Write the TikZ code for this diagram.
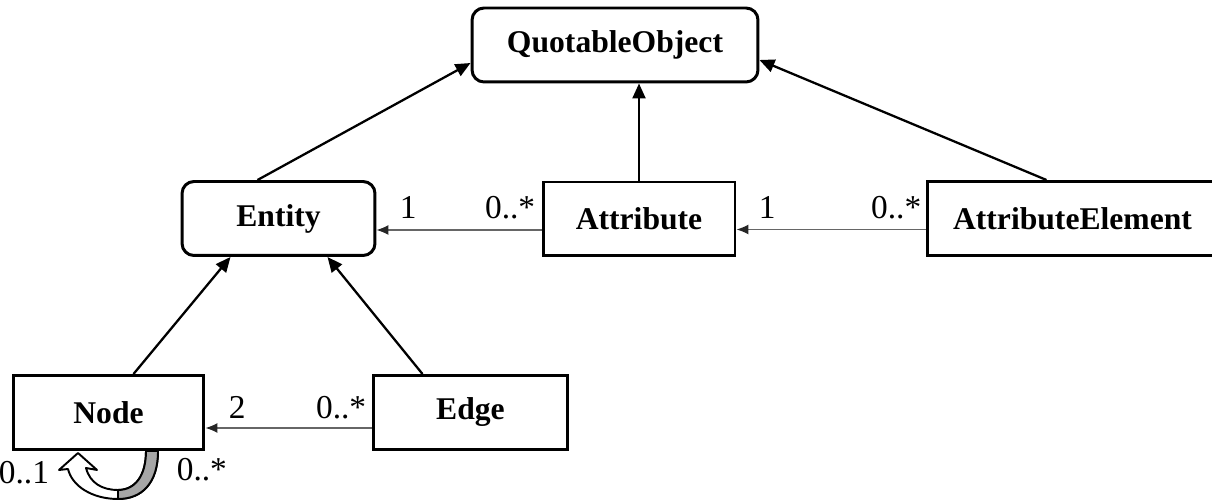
\documentclass[tikz,border=0pt]{standalone}
\usepackage{fontspec}
\setmainfont{Liberation Serif}
\usetikzlibrary{arrows.meta, positioning, calc}

\tikzset{%
   % class boxes: plain and rounded
   cls/.style={
      draw,
      line width=1.7pt,
      minimum height=1.48cm,
      inner sep=0pt,
      font=\fontsize{18}{20}\selectfont\bfseries
   },
   abstractcls/.style={
      cls,
      rounded corners=0.24cm
   },
   % generalisation and association lines
   isa/.style={
      line width=1.3pt,
      -{Triangle[length=0.3cm, width=0.26cm]}
   },
   assoc/.style={
      line width=0.7pt,
      draw=black!60,
      -{Latex[length=0.24cm, width=0.2cm, color=black!85]}
   },
   mult/.style={
      inner sep=0pt,
      font=\fontsize{19}{21}\selectfont
   },
}

\begin{document}
\begin{tikzpicture}[x=0.02cm, y=-0.02cm]
  \useasboundingbox (0,0) rectangle (1212,502);

  \node[abstractcls, minimum width=5.72cm] (QuotableObject) at (615,45)      {QuotableObject};
  \node[abstractcls, minimum width=3.86cm] (Entity)         at (278.5,218.5) {Entity};
  \node[cls, minimum width=3.84cm]         (Attribute)      at (639,219)     {Attribute};
  \node[cls, minimum width=5.82cm]         (AttrElement)    at (1072.5,218.5){AttributeElement};
  \node[cls, minimum width=3.82cm]         (Node)           at (108.5,412.5) {Node};
  \node[cls, minimum width=3.9cm]          (Edge)           at (470.5,412.5) {Edge};

  % inheritance
  \draw[isa] ($(Entity.north)+(-21,0)$) -- ($(QuotableObject.west)+(0,18)$);
  \draw[isa] (Attribute.north) -- (Attribute.north |- QuotableObject.south);
  \draw[isa] ($(AttrElement.north)+(-26,0)$) -- ($(QuotableObject.east)+(0,15)$);
  \draw[isa] ($(Node.north)+(25,0)$) -- ($(Entity.south)+(-48,0)$);
  \draw[isa] ($(Edge.north)+(-48,0)$) -- ($(Entity.south)+(49,0)$);

  % associations
  \coordinate (aE) at ($(Attribute.west)+(0,11)$);
  \coordinate (eA) at ($(AttrElement.west)+(0,11)$);
  \coordinate (eN) at ($(Edge.west)+(0,15.5)$);
  \draw[assoc] (aE) -- (aE -| Entity.east);
  \draw[assoc] (eA) -- (eA -| Attribute.east);
  \draw[assoc] (eN) -- (eN -| Node.east);

  \node[mult, anchor=base west] (mEnt)  at ($(Entity.east)+(23,0)$)       {1};
  \node[mult, anchor=base east] (mAtt)  at ($(Attribute.west)+(-6,0)$)    {0..*};
  \node[mult, anchor=base west] (mAtt2) at ($(Attribute.east)+(22,0)$)    {1};
  \node[mult, anchor=base east] (mElem) at ($(AttrElement.west)+(-4,0)$)  {0..*};
  \node[mult, anchor=base west] (mNode) at ($(Node.east)+(23,6)$)         {2};
  \node[mult, anchor=base east] (mEdge) at ($(Edge.west)+(-5,6)$)         {0..*};

  % self association on Node
  \begin{scope}[shift={(Node.south)}, line width=1.1pt, line join=round]
    \draw[fill=white] (-30.5,2) -- (-11.5,19) -- (-22.5,17)
      .. controls (-18.5,32) and (-6.5,39) .. (9.5,39)
      .. controls (26.5,39) and (37.5,25) .. (37.5,0)
      -- (49.5,0)
      .. controls (49.5,32) and (33.5,48) .. (9.5,48)
      .. controls (-16.5,48) and (-36.5,35) .. (-40.5,18)
      -- (-49.5,19) -- cycle;
    \draw[fill=black!35] (37.5,0) .. controls (37.5,25) and (26.5,39) .. (9.5,39)
      -- (9.5,48) .. controls (33.5,48) and (49.5,32) .. (49.5,0) -- cycle;
  \end{scope}
  \node[mult, anchor=base west] (mSelf1) at ($(Node.south west)+(-13,33)$) {0..1};
  \node[mult, anchor=base west] (mSelf2) at ($(Node.south east)+(-29,30)$) {0..*};
\end{tikzpicture}
\end{document}
